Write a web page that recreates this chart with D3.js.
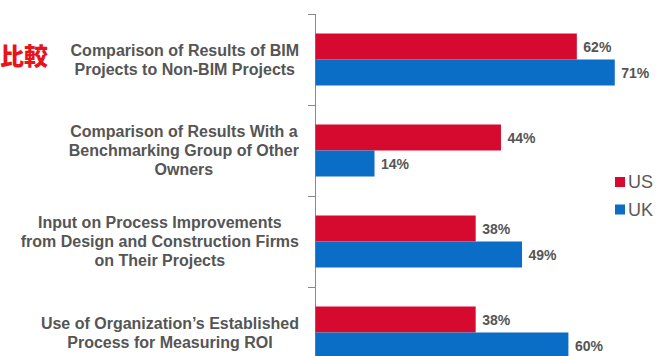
<!DOCTYPE html>
<html>
<head>
<meta charset="utf-8">
<script src="https://cdn.jsdelivr.net/npm/d3@7/dist/d3.min.js"></script>
<style>
html,body{margin:0;padding:0;background:#fff;}
svg{display:block;}
</style>
</head>
<body>
<script>
const categories = [
  ["Comparison of Results of BIM", "Projects to Non-BIM Projects"],
  ["Comparison of Results With a", "Benchmarking Group of Other", "Owners"],
  ["Input on Process Improvements", "from Design and Construction Firms", "on Their Projects"],
  ["Use of Organization\u2019s Established", "Process for Measuring ROI"]
];
const seriesNames = ["US", "UK"];
const usValues = [62, 44, 38, 38];
const ukValues = [71, 14, 49, 60];
const seriesColors = ["#D50A2E", "#0A6DC6"];
const sideTitle = "比較";

const W = 669, H = 356;
const svg = d3.select("body").append("svg").attr("width", W).attr("height", H);

const ids = categories.map((c, i) => i);
const y = d3.scaleBand().domain(ids).range([14, 14 + 91 * 4]).paddingInner(0).paddingOuter(0);
const yInner = d3.scaleBand().domain(seriesNames).range([0, y.bandwidth()]).paddingInner(0).paddingOuter(0.75);
const x = d3.scaleLinear().domain([0, 100]).range([315, 315 + 421.5]);

const series = [usValues, ukValues];

// axis line + ticks
const axisG = svg.append("g");
axisG.append("line").attr("x1", x(0)).attr("x2", x(0)).attr("y1", y(0)).attr("y2", H + 10)
  .attr("stroke", "#8a8a8a").attr("stroke-width", 1).attr("shape-rendering", "crispEdges");
ids.concat([4]).forEach(i => {
  const yy = 14 + 91 * i;
  axisG.append("line").attr("x1", x(0) - 7).attr("x2", x(0)).attr("y1", yy).attr("y2", yy)
    .attr("stroke", "#8a8a8a").attr("stroke-width", 1).attr("shape-rendering", "crispEdges");
});

// bars
seriesNames.forEach((s, si) => {
  const g = svg.append("g");
  g.selectAll("rect").data(series[si]).join("rect")
    .attr("x", x(0) + 0.5)
    .attr("y", (d, i) => y(i) + yInner(s))
    .attr("width", d => x(d) - x(0))
    .attr("height", yInner.bandwidth())
    .attr("fill", seriesColors[si]);
  g.selectAll("text").data(series[si]).join("text")
    .attr("x", d => x(d) + 7)
    .attr("y", (d, i) => y(i) + yInner(s) + yInner.bandwidth() / 2)
    .attr("dy", "0.36em")
    .attr("font-family", "Liberation Sans, Arial, sans-serif")
    .attr("font-weight", "bold")
    .attr("font-size", 14)
    .attr("fill", "#555")
    .text(d => d + "%");
});

// category labels
categories.forEach((lines, i) => {
  const g = svg.append("g");
  const cy = y(i) + y.bandwidth() / 2;
  const lh = 19;
  const texts = lines.map((ln, li) => g.append("text")
    .attr("y", cy + (li - (lines.length - 1) / 2) * lh)
    .attr("dy", "0.36em")
    .attr("text-anchor", "middle")
    .attr("font-family", "Liberation Sans, Arial, sans-serif")
    .attr("font-weight", "bold")
    .attr("font-size", 16)
    .attr("fill", "#555")
    .text(ln));
  const maxW = d3.max(texts, t => t.node().getComputedTextLength());
  const cx = 299 - maxW / 2;
  texts.forEach(t => t.attr("x", cx));
});

// legend
seriesNames.forEach((s, si) => {
  const ly = 182 + si * 27.5;
  svg.append("rect").attr("x", 615).attr("y", ly - 5).attr("width", 10).attr("height", 10).attr("fill", seriesColors[si]);
  svg.append("text").attr("x", 628).attr("y", ly).attr("dy", "0.36em")
    .attr("font-family", "Liberation Sans, Arial, sans-serif")
    .attr("font-size", 18).attr("fill", "#595959").text(s);
});

// side title
svg.append("text").attr("x", 48).attr("y", 56).attr("dy", "0.38em")
  .attr("text-anchor", "end")
  .attr("font-family", "Noto Sans CJK JP, sans-serif")
  .attr("font-weight", 900).attr("font-size", 24).attr("fill", "#E8141B")
  .text(sideTitle);
</script>
</body>
</html>
